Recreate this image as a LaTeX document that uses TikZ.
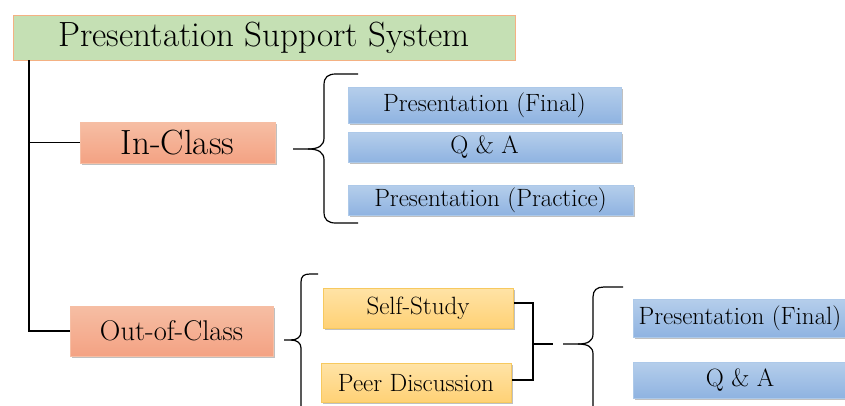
\documentclass[tikz,border=0pt]{standalone}
\usetikzlibrary{shadows,calc}
\definecolor{titlefill}{HTML}{C5E0B4}
\definecolor{titleline}{HTML}{F4B183}
\definecolor{orT}{HTML}{F6BEA4}
\definecolor{orB}{HTML}{F4A283}
\definecolor{blT}{HTML}{B5CEEB}
\definecolor{blB}{HTML}{8FB3E1}
\definecolor{yeT}{HTML}{FFE3A6}
\definecolor{yeB}{HTML}{FFD175}
\definecolor{yeL}{HTML}{F7C95F}
\begin{document}
\begin{tikzpicture}[x=1pt,y=-1pt,
  shd/.style={drop shadow={shadow xshift=1.5pt,shadow yshift=-1.8pt,opacity=0.35,fill=black!70}},
  titlebox/.style={draw=titleline,line width=0.8pt,fill=titlefill,inner sep=0pt,font=\fontsize{35}{40}\selectfont},
  catbox/.style={shd,top color=orT,bottom color=orB,draw=orT,inner sep=0pt},
  bluebox/.style={shd,top color=blT,bottom color=blB,draw=blT!80!blB,inner sep=0pt,font=\fontsize{25}{28}\selectfont},
  yelbox/.style={shd,top color=yeT,bottom color=yeB,draw=yeL,line width=0.6pt,inner sep=0pt,font=\fontsize{25}{28}\selectfont},
  conn/.style={line width=1.4pt,black},
  brc/.style={line width=1.2pt,black}]
\clip (0,0) rectangle (845,405);
\fill[white] (0,0) rectangle (845,405);
% nodes
\node[titlebox,minimum width=502pt,minimum height=45pt] (title) at (264,37.5) {Presentation Support System};
\node[catbox,minimum width=195pt,minimum height=41pt,font=\fontsize{35}{40}\selectfont] (inclass) at (177.5,142.5) {In-Class};
\node[catbox,minimum width=203pt,minimum height=50pt,font=\fontsize{28.5}{32}\selectfont] (outclass) at (171.5,331) {Out-of-Class};
\node[bluebox,minimum width=273pt,minimum height=36pt] (pf1) at (484.5,105) {Presentation (Final)};
\node[bluebox,minimum width=273pt,minimum height=30pt] (qa1) at (484.5,147) {Q \& A};
\node[bluebox,minimum width=285pt,minimum height=30pt] (pp1) at (490.5,200) {Presentation (Practice)};
\node[yelbox,minimum width=190pt,minimum height=40pt] (self) at (418,308) {Self-Study};
\node[yelbox,minimum width=190pt,minimum height=39pt] (peer) at (416,383) {Peer Discussion};
\node[bluebox,minimum width=214pt,minimum height=38pt] (pf2) at (740,318) {Presentation (Final)};
\node[bluebox,minimum width=214pt,minimum height=36pt] (qa2) at (740,380) {Q \& A};
% trunk
\coordinate (trunk) at (29,60);
\draw[conn] (trunk) |- (outclass.west);
\draw[conn] (trunk |- inclass.west) -- (inclass.west);
% bracket joining self / peer
\coordinate (bx) at (533,0);
\coordinate (stop) at ([yshift=5pt,xshift=1pt]self.east);
\coordinate (sbot) at ([yshift=3pt,xshift=1pt]peer.east);
\draw[conn] (stop) -- (stop -| bx) -- (sbot -| bx) -- (sbot);
\coordinate (mid) at (533,344);
\coordinate (bend) at (553,344);
\draw[conn] (mid) -- (bend);
% brace 1
\draw[brc] (358,74) -- (336,74) .. controls (328,74) and (324,77) .. (324,85) -- (324,138) .. controls (324,146) and (318,149) .. (308,149) -- (293,149);
\draw[brc] (308,149) .. controls (318,149) and (324,152) .. (324,160) -- (324,212) .. controls (324,220) and (328,223) .. (336,223) -- (358,223);
% brace 2
\draw[brc] (318,274) -- (310,274) .. controls (304,274) and (301,276) .. (301,282) -- (301,332) .. controls (301,337) and (297,340) .. (291,340) -- (284,340);
\draw[brc] (291,340) .. controls (297,340) and (301,343) .. (301,348) -- (301,420);
% brace 3
\draw[brc] (623,287) -- (604,287) .. controls (597,287) and (593,290) .. (593,297) -- (593,334) .. controls (593,341) and (588,344) .. (578,344) -- (563,344);
\draw[brc] (578,344) .. controls (588,344) and (593,347) .. (593,354) -- (593,420);
\end{tikzpicture}
\end{document}
